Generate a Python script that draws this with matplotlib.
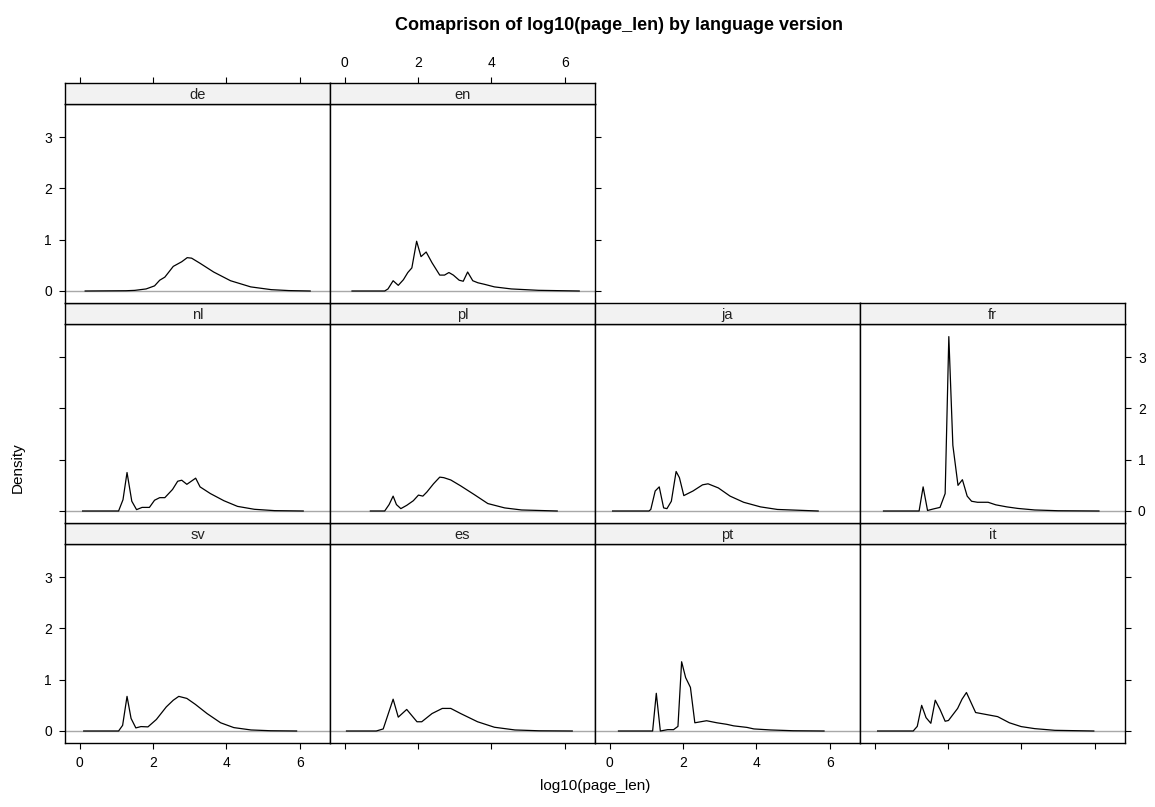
import matplotlib.pyplot as plt

plt.rcParams['font.family'] = ['Liberation Sans', 'DejaVu Sans']

# density curves (x = log10(page_len), y = density)
sv_x = [0.11, 1.06, 1.17, 1.29, 1.40, 1.53, 1.67, 1.86, 2.09, 2.36, 2.55, 2.70, 2.92, 3.15, 3.47, 3.84, 4.20, 4.67, 5.20, 5.91]
sv_y = [0.0, 0.0, 0.11, 0.675, 0.245, 0.06, 0.086, 0.08, 0.225, 0.47, 0.60, 0.675, 0.635, 0.52, 0.34, 0.16, 0.066, 0.02, 0.005, 0.0]

es_x = [0.05, 0.86, 1.05, 1.32, 1.46, 1.69, 1.97, 2.10, 2.38, 2.66, 2.89, 3.16, 3.62, 4.08, 4.64, 5.30, 6.20]
es_y = [0.0, 0.0, 0.04, 0.62, 0.27, 0.42, 0.18, 0.18, 0.34, 0.44, 0.44, 0.34, 0.18, 0.073, 0.02, 0.004, 0.0]

pt_x = [0.24, 1.17, 1.27, 1.38, 1.58, 1.74, 1.86, 1.96, 2.07, 2.20, 2.32, 2.64, 2.92, 3.19, 3.38, 3.74, 3.93, 4.39, 5.00, 5.84]
pt_y = [0.0, 0.0, 0.735, 0.0, 0.026, 0.026, 0.09, 1.35, 1.04, 0.85, 0.16, 0.20, 0.16, 0.13, 0.10, 0.07, 0.04, 0.02, 0.005, 0.0]

it_x = [0.08, 1.05, 1.16, 1.28, 1.40, 1.53, 1.65, 1.78, 1.92, 2.01, 2.26, 2.38, 2.50, 2.75, 3.35, 3.67, 3.99, 4.36, 4.91, 5.97]
it_y = [0.0, 0.0, 0.09, 0.50, 0.26, 0.15, 0.60, 0.42, 0.19, 0.205, 0.44, 0.62, 0.75, 0.36, 0.28, 0.16, 0.086, 0.046, 0.013, 0.0]

nl_x = [0.08, 1.06, 1.18, 1.29, 1.42, 1.55, 1.70, 1.90, 2.04, 2.18, 2.32, 2.53, 2.67, 2.78, 2.92, 3.16, 3.28, 3.56, 3.93, 4.30, 4.76, 5.31, 6.09]
nl_y = [0.0, 0.0, 0.22, 0.75, 0.19, 0.026, 0.07, 0.07, 0.21, 0.26, 0.26, 0.42, 0.58, 0.60, 0.52, 0.64, 0.47, 0.34, 0.20, 0.09, 0.033, 0.007, 0.0]

pl_x = [0.70, 1.09, 1.21, 1.32, 1.41, 1.53, 1.69, 1.87, 2.01, 2.13, 2.24, 2.42, 2.59, 2.70, 2.89, 3.16, 3.53, 3.90, 4.36, 4.82, 5.79]
pl_y = [0.0, 0.0, 0.125, 0.29, 0.125, 0.046, 0.11, 0.20, 0.31, 0.29, 0.37, 0.53, 0.66, 0.65, 0.605, 0.49, 0.32, 0.145, 0.06, 0.02, 0.0]

ja_x = [0.08, 1.07, 1.12, 1.24, 1.35, 1.47, 1.56, 1.68, 1.81, 1.90, 2.02, 2.27, 2.53, 2.68, 2.96, 3.28, 3.65, 4.11, 4.57, 5.68]
ja_y = [0.0, 0.0, 0.03, 0.39, 0.47, 0.06, 0.046, 0.19, 0.77, 0.65, 0.30, 0.39, 0.51, 0.53, 0.45, 0.29, 0.17, 0.08, 0.03, 0.0]

fr_x = [0.24, 1.21, 1.32, 1.44, 1.60, 1.78, 1.92, 2.02, 2.13, 2.27, 2.39, 2.52, 2.64, 2.80, 3.09, 3.30, 3.60, 3.90, 4.36, 5.00, 6.11]
fr_y = [0.0, 0.0, 0.47, 0.01, 0.04, 0.07, 0.34, 3.40, 1.28, 0.50, 0.61, 0.29, 0.19, 0.17, 0.17, 0.12, 0.08, 0.05, 0.02, 0.005, 0.0]

de_x = [0.15, 1.26, 1.50, 1.81, 2.04, 2.18, 2.32, 2.55, 2.78, 2.93, 3.05, 3.28, 3.65, 4.11, 4.66, 5.22, 5.70, 6.28]
de_y = [0.0, 0.005, 0.012, 0.04, 0.10, 0.21, 0.27, 0.48, 0.57, 0.65, 0.64, 0.54, 0.37, 0.20, 0.08, 0.026, 0.008, 0.0]

en_x = [0.20, 1.09, 1.18, 1.32, 1.46, 1.60, 1.72, 1.83, 1.96, 2.08, 2.22, 2.38, 2.59, 2.72, 2.84, 2.96, 3.12, 3.23, 3.35, 3.49, 3.63, 3.81, 4.08, 4.54, 5.28, 6.39]
en_y = [0.0, 0.0, 0.04, 0.20, 0.11, 0.22, 0.36, 0.45, 0.97, 0.67, 0.76, 0.55, 0.31, 0.31, 0.36, 0.31, 0.21, 0.19, 0.37, 0.20, 0.16, 0.13, 0.08, 0.04, 0.013, 0.0]

# lattice panel order: bottom row first, left to right
languages = ['sv', 'es', 'pt', 'it', 'nl', 'pl', 'ja', 'fr', 'de', 'en']
curves = {
    'sv': (sv_x, sv_y), 'es': (es_x, es_y), 'pt': (pt_x, pt_y), 'it': (it_x, it_y),
    'nl': (nl_x, nl_y), 'pl': (pl_x, pl_y), 'ja': (ja_x, ja_y), 'fr': (fr_x, fr_y),
    'de': (de_x, de_y), 'en': (en_x, en_y),
}
x_ticks = [0, 2, 4, 6]
y_ticks = [0, 1, 2, 3]

W, H = 1155, 807
fig = plt.figure(figsize=(W / 100, H / 100), dpi=100)

col_left = 65
col_w = 265
row_top = [523.3, 303.3, 83.3]  # strip top of bottom, middle, top row
strip_h = 21
panel_h = 199
xlim = (-0.40, 6.82)
ylim = (-0.24, 3.64)
tick_len = 4.3
tick_font = 10


def box(left, top, w, h):
    return [left / W, 1 - (top + h) / H, w / W, h / H]


n_rows = 3
for i, lang in enumerate(languages):
    row = i // 4
    col = i % 4
    left = col_left + col * col_w
    top = row_top[row]
    last_in_row = (i == len(languages) - 1) or (col == 3)

    ax = fig.add_axes(box(left, top + strip_h, col_w, panel_h))
    x, y = curves[lang]
    ax.axhline(0, color='#A8A8A8', lw=1.0)
    ax.plot(x, y, color='black', lw=0.9)
    ax.set_xlim(*xlim)
    ax.set_ylim(*ylim)
    ax.set_xticks(x_ticks)
    ax.set_yticks(y_ticks)
    ax.tick_params(direction='out', length=tick_len, width=0.8, labelsize=tick_font, pad=5,
                   bottom=(row == 0), labelbottom=(row == 0 and col % 2 == 0),
                   top=False, labeltop=False,
                   left=(col == 0), labelleft=(col == 0 and row % 2 == 0),
                   right=last_in_row, labelright=(last_in_row and row % 2 == 1))
    for s in ax.spines.values():
        s.set_linewidth(1.0)

    sax = fig.add_axes(box(left, top, col_w, strip_h))
    sax.set_facecolor('#F2F2F2')
    sax.set_xlim(*xlim)
    sax.set_yticks([])
    sax.set_xticks(x_ticks)
    is_top = (row == n_rows - 1)
    sax.tick_params(direction='out', length=tick_len, width=0.8, labelsize=tick_font, pad=5,
                    bottom=False, labelbottom=False,
                    top=is_top, labeltop=(is_top and col % 2 == 1))
    for s in sax.spines.values():
        s.set_linewidth(1.0)
    sax.text(0.5, 0.45, lang, transform=sax.transAxes, ha='center', va='center',
             fontsize=10.5, color='#222222')

fig.text(619 / W, 1 - 25 / H, 'Comaprison of log10(page_len) by language version',
         ha='center', va='center', fontsize=13, fontweight='bold')
fig.text(595 / W, 1 - 786 / H, 'log10(page_len)', ha='center', va='center', fontsize=11)
fig.text(18 / W, 1 - 468 / H, 'Density', ha='center', va='center', rotation=90, fontsize=11)

fig.savefig('out.png', dpi=100)
